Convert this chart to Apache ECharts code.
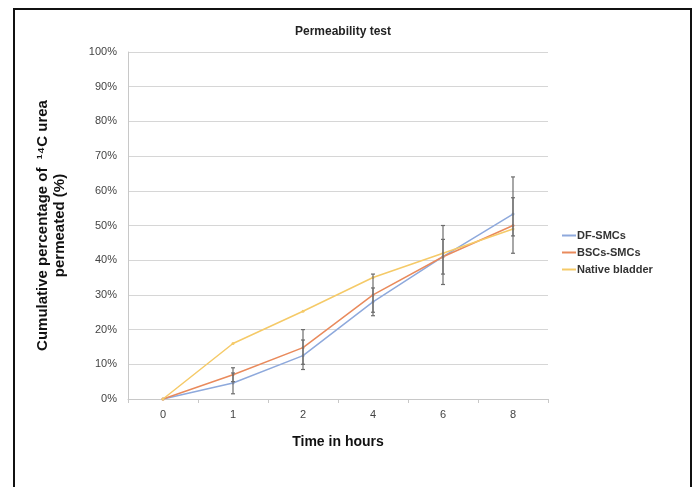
<!DOCTYPE html>
<html>
<head>
<meta charset="utf-8">
<script src="https://cdn.jsdelivr.net/npm/echarts@6/dist/echarts.min.js"></script>
<style>
  html, body { margin: 0; padding: 0; background: #fff; }
  #frame { position: absolute; left: 13px; top: 8px; width: 675px; height: 490px; border: 2px solid #111; border-bottom: none; }
  #main { position: absolute; left: 0; top: 0; width: 696px; height: 487px; }
</style>
</head>
<body>
<div id="frame"></div>
<div id="main"></div>
<script>
// 数据
var hours = ['0', '1', '2', '4', '6', '8'];
var dfSmcs = [0, 4.6, 12.5, 28, 41, 53.3];
var bscsSmcs = [0, 7, 14.8, 30, 41, 50];
var nativeBladder = [0, 16, 25.3, 35, 42, 49];
// 误差线 [类别序号, 下限, 上限]
var dfErr = [[1, 1.5, 7.5], [2, 8.5, 17], [3, 24, 32], [4, 33, 50], [5, 42, 64]];
var bscsErr = [[1, 5, 9], [2, 10, 20], [3, 25, 36], [4, 36, 46], [5, 47, 58]];

var myChart = echarts.init(document.getElementById('main'));

function errorBar(params, api) {
    var x = api.value(0);
    var lo = api.coord([x, api.value(1)]);
    var hi = api.coord([x, api.value(2)]);
    var style = {stroke: '#6d6d6d', lineWidth: 1.2};
    return {
        type: 'group',
        children: [
            {type: 'line', shape: {x1: hi[0], y1: hi[1], x2: lo[0], y2: lo[1]}, style: style},
            {type: 'line', shape: {x1: hi[0] - 2, y1: hi[1], x2: hi[0] + 2, y2: hi[1]}, style: style},
            {type: 'line', shape: {x1: lo[0] - 2, y1: lo[1], x2: lo[0] + 2, y2: lo[1]}, style: style}
        ]
    };
}

var option = {
    color: ['#8ea9dc', '#e98a5c', '#f5ca68'],
    title: {
        text: 'Permeability test',
        left: 338,
        top: 21,
        textAlign: 'center',
        textStyle: {fontFamily: 'Liberation Sans', fontSize: 12, fontWeight: 'bold', color: '#222'}
    },
    legend: {
        orient: 'vertical',
        left: 557,
        top: 225,
        itemWidth: 14,
        itemHeight: 2,
        itemGap: 6,
        icon: 'rect',
        textStyle: {fontFamily: 'Liberation Sans', fontSize: 11, fontWeight: 'bold', color: '#333', padding: [0, 0, 0, -4]},
        data: ['DF-SMCs', 'BSCs-SMCs', 'Native bladder']
    },
    grid: {left: 128, right: 148, top: 52, bottom: 88},
    xAxis: {
        type: 'category',
        data: hours,
        boundaryGap: true,
        name: 'Time in hours',
        nameLocation: 'middle',
        nameGap: 36,
        nameTextStyle: {fontFamily: 'Liberation Sans', fontSize: 14, fontWeight: 'bold', color: '#111'},
        axisLine: {lineStyle: {color: '#c8c8c8'}},
        axisTick: {show: true, length: 4, lineStyle: {color: '#c8c8c8'}},
        axisLabel: {fontFamily: 'Liberation Sans', fontSize: 11, color: '#444', margin: 10}
    },
    yAxis: {
        type: 'value',
        min: 0,
        max: 100,
        interval: 10,
        name: 'Cumulative percentage of  ¹⁴C urea\npermeated (%)',
        nameLocation: 'middle',
        nameGap: 60,
        nameTextStyle: {fontFamily: 'Liberation Sans', fontSize: 15, fontWeight: 'bold', color: '#111', lineHeight: 17},
        axisLine: {show: true, lineStyle: {color: '#c8c8c8'}},
        axisTick: {show: false},
        splitLine: {lineStyle: {color: '#d6d6d6'}},
        axisLabel: {formatter: '{value}%', fontFamily: 'Liberation Sans', fontSize: 11, color: '#444', margin: 11}
    },
    series: [
        {name: 'DF-SMCs', type: 'line', data: dfSmcs, symbol: 'circle', symbolSize: 3, lineStyle: {width: 1.5}},
        {name: 'BSCs-SMCs', type: 'line', data: bscsSmcs, symbol: 'circle', symbolSize: 3, lineStyle: {width: 1.5}},
        {name: 'Native bladder', type: 'line', data: nativeBladder, symbol: 'circle', symbolSize: 3, lineStyle: {width: 1.5}},
        {type: 'custom', data: dfErr, renderItem: errorBar, z: 5},
        {type: 'custom', data: bscsErr, renderItem: errorBar, z: 5}
    ]
};

myChart.setOption(option);
</script>
</body>
</html>
